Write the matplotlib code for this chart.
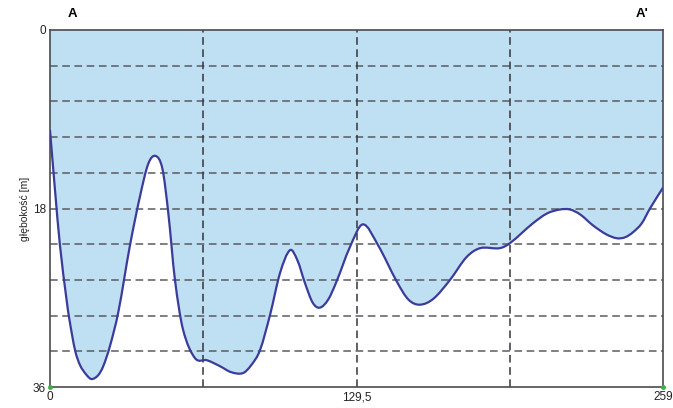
import numpy as np
import matplotlib.pyplot as plt
from matplotlib.path import Path
from matplotlib.patches import PathPatch

plt.rcParams['font.family'] = ['Liberation Sans', 'DejaVu Sans']

# profile A - A' : distance along the section vs depth
distance = [0, 2.1, 4.2, 7.0, 8.2, 10.6, 12.7, 15.5, 17.6, 20.4, 22.5, 25.3, 28.9,
            33.8, 38, 41.5, 44.6, 47.5, 50, 52.8, 56.2, 61.3, 66.3, 71.8, 76.5,
            81.5, 85, 88.7, 93, 97.2, 101.4, 104.5, 107.7, 111, 114, 117.5, 121,
            126.7, 132.2, 138.6, 146.6, 151.5, 156.3, 162, 169, 176, 181.7, 190,
            194.3, 204, 210, 215.5, 219.7, 224, 229.4, 235, 239.5, 243, 246.3,
            250, 253.5, 259]
depth = [10.1, 16.1, 21.7, 27.2, 29.2, 32.3, 33.8, 34.8, 35.2, 34.8, 33.9, 31.9, 28.4,
         21.7, 16.8, 13.5, 12.7, 14.0, 18.5, 25.2, 30.2, 33.1, 33.3, 33.9, 34.5,
         34.6, 33.8, 32.3, 28.7, 24.5, 22.2, 23.2, 25.5, 27.5, 28.0, 27.2, 25.4,
         21.9, 19.6, 21.7, 25.4, 27.2, 27.7, 27.1, 25.2, 22.9, 22.0, 22.0,
         21.5, 19.5, 18.5, 18.1, 18.1, 18.6, 19.7, 20.6, 21.0, 20.9, 20.4,
         19.5, 18.0, 15.9]

x_tick_labels = ['0', '129,5', '259']
x_ticks = [0, 129.5, 259]
y_ticks = [0, 18, 36]
x_max = 259
y_max = 36


def smooth_path(xs, ys):
    # cubic hermite in x, drawn as bezier segments
    xs = np.asarray(xs, float)
    ys = np.asarray(ys, float)
    n = len(xs)
    m = np.zeros(n)
    m[0] = (ys[1] - ys[0]) / (xs[1] - xs[0])
    m[-1] = (ys[-1] - ys[-2]) / (xs[-1] - xs[-2])
    for i in range(1, n - 1):
        m[i] = (ys[i + 1] - ys[i - 1]) / (xs[i + 1] - xs[i - 1])
    verts = [(xs[0], ys[0])]
    codes = [Path.MOVETO]
    for i in range(n - 1):
        h = xs[i + 1] - xs[i]
        verts += [(xs[i] + h / 3, ys[i] + m[i] * h / 3),
                  (xs[i + 1] - h / 3, ys[i + 1] - m[i + 1] * h / 3),
                  (xs[i + 1], ys[i + 1])]
        codes += [Path.CURVE4] * 3
    return verts, codes


fig = plt.figure(figsize=(6.73, 4.08), dpi=100)
ax = fig.add_axes([50 / 673, 1 - 387 / 408, 613 / 673, 357 / 408])

verts, codes = smooth_path(distance, depth)

# water body: from surface (0) down to the bottom line
fill_verts = [(0, 0)] + [(0, depth[0])] + verts[1:] + [(x_max, 0), (0, 0)]
fill_codes = [Path.MOVETO, Path.LINETO] + codes[1:] + [Path.LINETO, Path.CLOSEPOLY]
ax.add_patch(PathPatch(Path(fill_verts, fill_codes), facecolor='#bfdff3',
                       edgecolor='none', zorder=1))

# grid
for yv in np.arange(1, 10) * y_max / 10:
    ax.axhline(yv, color='#5a5c62', linestyle=(0, (5, 3)), linewidth=1.1, zorder=2)
for xv in [x_max / 4, x_max / 2, 3 * x_max / 4]:
    ax.axvline(xv, color='#34363c', linestyle=(0, (5, 3)), linewidth=1.1, zorder=2)

ax.add_patch(PathPatch(Path(verts, codes), facecolor='none', edgecolor='#3b3c9a',
                       linewidth=1.6, zorder=3))

ax.plot([0, x_max], [y_max, y_max], 'o', color='#3cb043', markersize=2.5,
        clip_on=False, zorder=5)

ax.set_xlim(0, x_max)
ax.set_ylim(y_max, 0)
ax.set_xticks(x_ticks)
ax.set_xticklabels(x_tick_labels)
ax.set_yticks(y_ticks)
ax.tick_params(length=0, labelsize=8.5, pad=3, colors='#222222')
for s in ax.spines.values():
    s.set_color('#4a4a50')
    s.set_linewidth(1.2)

ax.set_ylabel('głębokość [m]', fontsize=7.5, color='#222222', labelpad=2)

fig.text(72 / 673, 1 - 14 / 408, 'A', fontsize=9.5, fontweight='bold', ha='center', va='center')
fig.text(642 / 673, 1 - 14 / 408, "A'", fontsize=9.5, fontweight='bold', ha='center', va='center')

fig.savefig('out.png', dpi=100)
